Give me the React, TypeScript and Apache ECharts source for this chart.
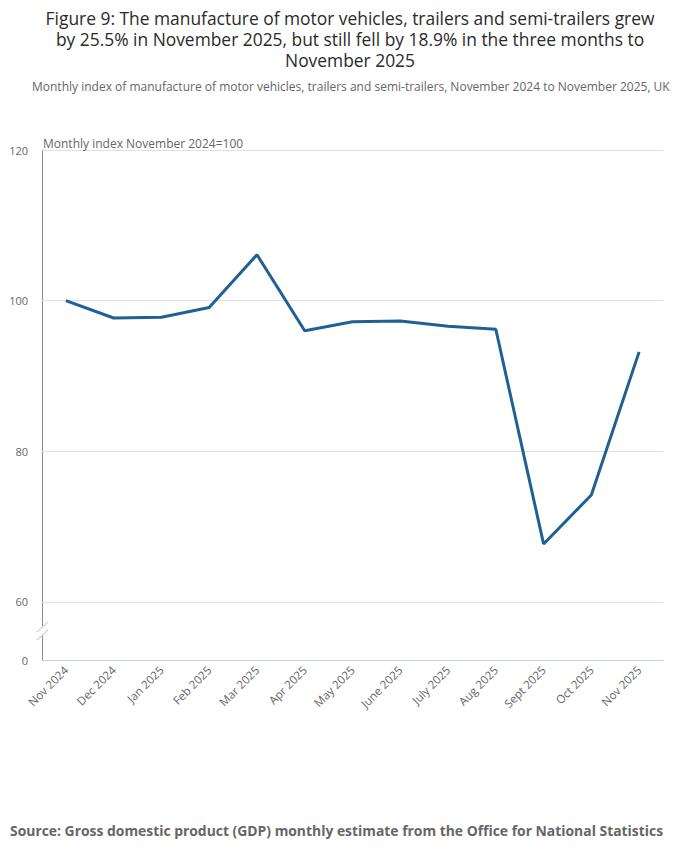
import React, { useEffect, useRef } from "react";
import * as echarts from "echarts";

const categories = [
  "Nov 2024", "Dec 2024", "Jan 2025", "Feb 2025", "Mar 2025", "Apr 2025",
  "May 2025", "June 2025", "July 2025", "Aug 2025", "Sept 2025", "Oct 2025", "Nov 2025",
];
const indexValues = [100.0, 97.7, 97.8, 99.1, 106.1, 96.0, 97.2, 97.3, 96.6, 96.2, 67.7, 74.2, 93.2];
const yAxisBottom = 52.29; // stands for 0 on the broken axis
const yTickValues = [60, 80, 100, 120];
const titleLines = [
  "Figure 9: The manufacture of motor vehicles, trailers and semi-trailers grew",
  "by 25.5% in November 2025, but still fell by 18.9% in the three months to",
  "November 2025",
];

const FONT = "'Open Sans', 'Noto Sans', sans-serif";

export default function App() {
  const ref = useRef<HTMLDivElement>(null);
  useEffect(() => {
    document.body.style.margin = "0";
    const chart = echarts.init(ref.current!, null, { renderer: "svg" });
    chart.setOption({
      animation: false,
      textStyle: { fontFamily: FONT },
      title: [
        ...titleLines.map((t, i) => ({
          text: t,
          left: "center",
          top: 8 + i * 21,
          padding: 0,
          textStyle: { fontSize: 17.4, fontWeight: "normal", color: "#2a2a2a", lineHeight: 19, fontFamily: FONT },
        })),
        {
          text: "Monthly index of manufacture of motor vehicles, trailers and semi-trailers, November 2024 to November 2025, UK",
          left: 32,
          top: 79,
          padding: 0,
          textStyle: { fontSize: 12, fontWeight: "normal", color: "#666", lineHeight: 14, fontFamily: FONT },
        },
        {
          text: "Monthly index November 2024=100",
          left: 43,
          top: 136,
          padding: 0,
          textStyle: { fontSize: 12, fontWeight: "normal", color: "#666", lineHeight: 14, fontFamily: FONT },
        },
        {
          text: "Source: Gross domestic product (GDP) monthly estimate from the Office for National Statistics",
          left: 10,
          top: 822,
          padding: 0,
          textStyle: { fontSize: 13.9, fontWeight: "bold", color: "#666", lineHeight: 16, fontFamily: FONT },
        },
      ],
      grid: { left: 42, right: 37, top: 150, bottom: 197, containLabel: false },
      xAxis: {
        type: "category",
        data: categories,
        boundaryGap: true,
        axisLine: { lineStyle: { color: "#c6d0e6", width: 1 } },
        axisTick: { alignWithLabel: true, length: 6, lineStyle: { color: "#c6d0e6" } },
        axisLabel: { rotate: 45, color: "#666", fontSize: 11.5, margin: 8, interval: 0, fontFamily: FONT },
        splitLine: { show: false },
      },
      yAxis: {
        type: "value",
        min: yAxisBottom,
        max: 120,
        axisLine: { show: true, lineStyle: { color: "#8c8c8c", width: 1 } },
        axisTick: { show: false },
        splitLine: { show: false },
        axisLabel: {
          customValues: [yAxisBottom, ...yTickValues],
          formatter: (v: number) => (v < 55 ? "0" : String(Math.round(v))),
          color: "#666",
          fontSize: 11,
          margin: 14,
          fontFamily: FONT,
        },
      },
      graphic: [
        {
          type: "polygon",
          shape: { points: [[36, 632], [49, 621], [49, 630], [36, 641]] },
          style: { fill: "#fff" },
          z: 100,
        },
        { type: "line", shape: { x1: 37, y1: 632, x2: 48, y2: 622 }, style: { stroke: "#bbb", lineWidth: 1 }, z: 101 },
        { type: "line", shape: { x1: 37, y1: 640, x2: 48, y2: 630 }, style: { stroke: "#bbb", lineWidth: 1 }, z: 101 },
      ],
      series: [
        {
          type: "line",
          data: indexValues,
          symbol: "none",
          lineStyle: { color: "#206095", width: 3 },
          markLine: {
            silent: true,
            symbol: "none",
            label: { show: false },
            lineStyle: { color: "#e0e0e0", type: "solid", width: 1 },
            data: yTickValues.map((v) => ({ yAxis: v })),
            z: 1,
          },
        },
      ],
    });
    return () => chart.dispose();
  }, []);
  return <div ref={ref} style={{ width: 700, height: 857 }} />;
}
